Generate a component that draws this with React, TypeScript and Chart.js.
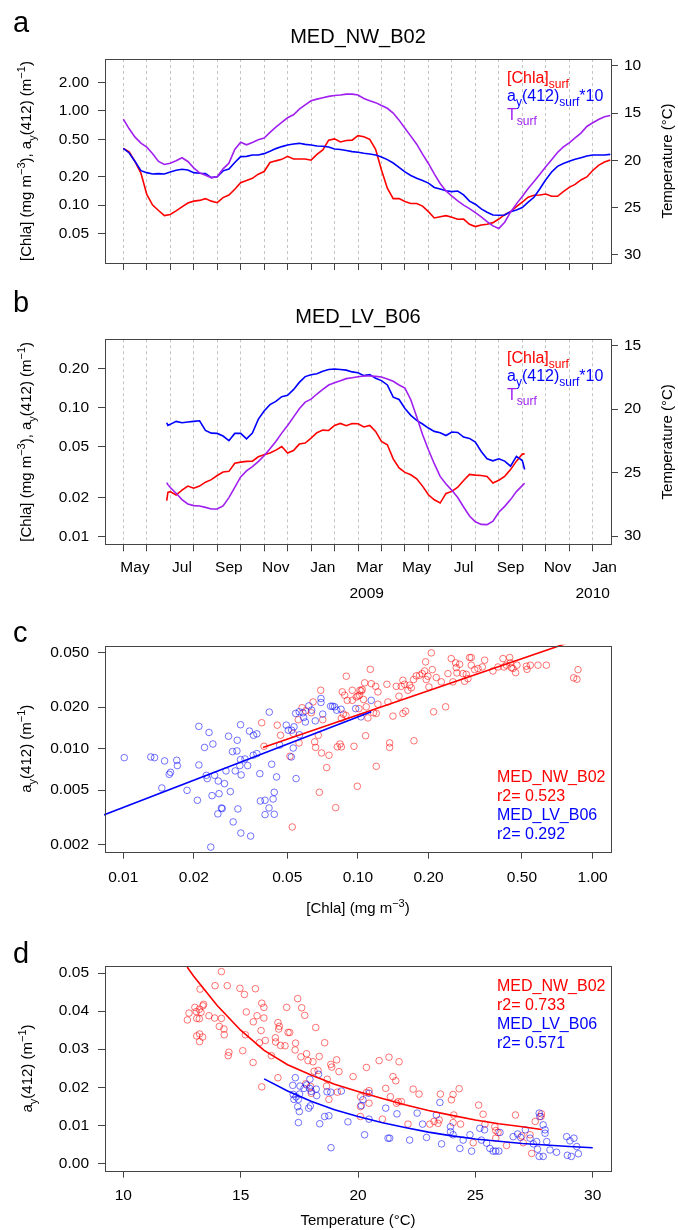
import React, { useEffect, useRef } from 'react';
import { Chart, registerables } from 'chart.js';

Chart.register(...registerables);

const FONT = '"Liberation Sans", Arial, Helvetica, sans-serif';
const RED = '#ff0000';
const BLUE = '#0000ff';
const PURPLE = '#a020f0';
const RED_PT = 'rgba(255,0,0,0.55)';
const BLUE_PT = 'rgba(0,0,255,0.55)';
const AXIS = '#444444';
const GRIDC = '#c4c4c4';

// ---------- time axis: month index, 0 = 1 May 2008 ... 20 = 1 Jan 2010
const MONTH_TICKS = [0, 1, 2, 3, 4, 5, 6, 7, 8, 9, 10, 11, 12, 13, 14, 15, 16, 17, 18, 19, 20];
const MONTH_LABELS = ['May', '', 'Jul', '', 'Sep', '', 'Nov', '', 'Jan', '', 'Mar', '', 'May', '', 'Jul', '', 'Sep', '', 'Nov', '', 'Jan'];
const YEAR_LABELS = ['2009', '2010'];
const YEAR_AT = [10.37, 20];

// ---------- panel a : MED_NW_B02
const A_MONTH = [0, 0.25, 0.5, 0.75, 1, 1.25, 1.5, 1.75, 2, 2.25, 2.5, 2.75, 3, 3.25, 3.5, 3.75, 4, 4.25, 4.5, 4.75, 5, 5.25, 5.5, 5.75, 6, 6.25, 6.5, 6.75, 7, 7.25, 7.5, 7.75, 8, 8.25, 8.5, 8.75, 9, 9.25, 9.5, 9.75, 10, 10.25, 10.5, 10.75, 11, 11.25, 11.5, 11.75, 12, 12.25, 12.5, 12.75, 13, 13.25, 13.5, 13.75, 14, 14.25, 14.5, 14.75, 15, 15.25, 15.5, 15.75, 16, 16.25, 16.5, 16.75, 17, 17.25, 17.5, 17.75, 18, 18.25, 18.5, 18.75, 19, 19.25, 19.5, 19.75, 20, 20.25, 20.5, 20.75];
const A_CHLA = [0.401, 0.367, 0.29, 0.219, 0.13, 0.1, 0.0875, 0.0773, 0.0795, 0.0866, 0.0955, 0.105, 0.11, 0.112, 0.117, 0.11, 0.106, 0.12, 0.128, 0.147, 0.173, 0.182, 0.1925, 0.213, 0.227, 0.283, 0.295, 0.306, 0.33, 0.309, 0.309, 0.309, 0.3, 0.346, 0.385, 0.49, 0.505, 0.468, 0.485, 0.49, 0.547, 0.533, 0.5, 0.391, 0.236, 0.151, 0.117, 0.117, 0.109, 0.104, 0.104, 0.0975, 0.0851, 0.0729, 0.075, 0.0772, 0.074, 0.0707, 0.071, 0.0625, 0.059, 0.0614, 0.0625, 0.065, 0.071, 0.079, 0.0851, 0.096, 0.1075, 0.121, 0.127, 0.128, 0.131, 0.124, 0.124, 0.139, 0.154, 0.166, 0.185, 0.199, 0.233, 0.264, 0.287, 0.302];
const A_AY10 = [0.401, 0.358, 0.29, 0.232, 0.221, 0.214, 0.216, 0.214, 0.225, 0.234, 0.24, 0.236, 0.221, 0.218, 0.216, 0.196, 0.2, 0.231, 0.242, 0.283, 0.327, 0.329, 0.341, 0.341, 0.352, 0.373, 0.398, 0.418, 0.435, 0.446, 0.453, 0.442, 0.435, 0.425, 0.421, 0.414, 0.395, 0.389, 0.38, 0.37, 0.364, 0.355, 0.349, 0.341, 0.324, 0.304, 0.28, 0.252, 0.225, 0.206, 0.1925, 0.182, 0.171, 0.154, 0.148, 0.142, 0.139, 0.141, 0.128, 0.11, 0.102, 0.091, 0.084, 0.0785, 0.078, 0.0785, 0.0851, 0.0886, 0.094, 0.1075, 0.121, 0.149, 0.186, 0.225, 0.258, 0.276, 0.292, 0.306, 0.319, 0.332, 0.341, 0.341, 0.341, 0.346];
const A_TEMP = [15.64, 16.67, 17.55, 18.18, 18.61, 19.31, 20.12, 20.44, 20.3, 20.05, 19.73, 20.12, 20.79, 21.32, 21.57, 21.82, 21.74, 20.9, 20.3, 18.85, 18.08, 18.36, 18.11, 17.83, 17.65, 17.05, 16.49, 16.0, 15.5, 15.18, 14.58, 14.13, 13.7, 13.53, 13.39, 13.24, 13.14, 13.1, 13.0, 13.0, 13.1, 13.46, 13.7, 13.9, 14.2, 14.5, 15.0, 15.75, 16.6, 17.44, 18.29, 19.35, 20.33, 21.43, 22.45, 23.23, 23.79, 24.28, 24.74, 25.1, 25.52, 25.98, 26.47, 26.93, 27.2, 26.54, 25.48, 24.6, 23.83, 22.98, 22.24, 21.46, 20.69, 19.95, 19.17, 18.57, 18.15, 17.62, 17.12, 16.42, 16.03, 15.68, 15.4, 15.26];
const A_LOG_TICKS = [0.05, 0.1, 0.2, 0.5, 1, 2];
const A_LOG_LABELS = ['0.05', '0.10', '0.20', '0.50', '1.00', '2.00'];
const A_TEMP_TICKS = [10, 15, 20, 25, 30];

// ---------- panel b : MED_LV_B06
const B_MONTH = [1.85, 1.9, 2, 2.25, 2.5, 2.75, 3, 3.25, 3.5, 3.75, 4, 4.25, 4.5, 4.75, 5, 5.25, 5.5, 5.75, 6, 6.25, 6.5, 6.75, 7, 7.25, 7.5, 7.75, 8, 8.25, 8.5, 8.75, 9, 9.25, 9.5, 9.75, 10, 10.25, 10.5, 10.75, 11, 11.25, 11.5, 11.75, 12, 12.25, 12.5, 12.75, 13, 13.25, 13.5, 13.75, 14, 14.25, 14.5, 14.75, 15, 15.25, 15.5, 15.75, 16, 16.25, 16.5, 16.75, 17, 17.1];
const B_CHLA = [0.019, 0.022, 0.0223, 0.021, 0.0229, 0.0246, 0.0237, 0.0246, 0.0264, 0.0276, 0.0297, 0.0316, 0.032, 0.037, 0.0377, 0.0382, 0.0384, 0.0415, 0.043, 0.0443, 0.0467, 0.0498, 0.0443, 0.0464, 0.052, 0.053, 0.0579, 0.0636, 0.0667, 0.0663, 0.0725, 0.0751, 0.0721, 0.0751, 0.0747, 0.0705, 0.0725, 0.0652, 0.0545, 0.0514, 0.04, 0.034, 0.0314, 0.0301, 0.028, 0.0246, 0.0211, 0.0193, 0.0182, 0.0216, 0.0224, 0.0241, 0.0272, 0.0303, 0.0299, 0.0297, 0.0292, 0.026, 0.0273, 0.0293, 0.033, 0.0384, 0.0435, 0.0437];
const B_AY10 = [0.076, 0.0725, 0.0739, 0.0779, 0.076, 0.077, 0.0779, 0.0788, 0.0663, 0.0632, 0.0629, 0.06, 0.0552, 0.0629, 0.0629, 0.0571, 0.0632, 0.0807, 0.0937, 0.105, 0.1113, 0.121, 0.124, 0.137, 0.156, 0.173, 0.179, 0.182, 0.19, 0.196, 0.198, 0.196, 0.194, 0.188, 0.185, 0.176, 0.179, 0.168, 0.161, 0.149, 0.12, 0.115, 0.0979, 0.0867, 0.0793, 0.0743, 0.0692, 0.0652, 0.0636, 0.0606, 0.0644, 0.064, 0.0589, 0.0575, 0.0539, 0.0456, 0.04, 0.0386, 0.04, 0.0384, 0.0351, 0.0418, 0.0388, 0.0331];
const B_TEMP = [25.79, 25.95, 26.18, 26.63, 27.13, 27.47, 27.6, 27.63, 27.74, 27.87, 27.87, 27.63, 26.97, 26.16, 25.34, 24.87, 24.53, 24.13, 23.68, 23.13, 22.55, 21.89, 21.29, 20.63, 19.97, 19.45, 19.21, 18.81, 18.45, 18.1, 17.92, 17.76, 17.6, 17.53, 17.45, 17.39, 17.39, 17.42, 17.47, 17.63, 17.81, 18.1, 18.34, 19.26, 20.6, 22.0, 23.2, 24.3, 25.3, 25.9, 26.4, 26.97, 27.71, 28.42, 28.87, 29.08, 29.1, 28.82, 28.13, 27.66, 27.13, 26.5, 26.03, 25.84];
const B_LOG_TICKS = [0.01, 0.02, 0.05, 0.1, 0.2];
const B_LOG_LABELS = ['0.01', '0.02', '0.05', '0.10', '0.20'];
const B_TEMP_TICKS = [15, 20, 25, 30];

// ---------- panel c : a_y(412) vs [Chla]
const C_NW_CHLA = [0.0389, 0.0453, 0.0468, 0.0398, 0.0525, 0.053, 0.0557, 0.0561, 0.0578, 0.0599, 0.0633, 0.0644, 0.0654, 0.066, 0.0678, 0.0694, 0.07, 0.0708, 0.0753, 0.0736, 0.0685, 0.0804, 0.0817, 0.0839, 0.085, 0.085, 0.0867, 0.0889, 0.0858, 0.0878, 0.0892, 0.0901, 0.0946, 0.0946, 0.0962, 0.0994, 0.1, 0.102, 0.101, 0.0513,
  0.1129, 0.1068, 0.1033, 0.1016, 0.0984, 0.1043, 0.1057, 0.1085, 0.114, 0.119, 0.1217, 0.1217, 0.1166, 0.1197, 0.1103, 0.1078, 0.1197, 0.1329, 0.1342, 0.1365, 0.1365, 0.141, 0.1457, 0.1496, 0.153, 0.1555, 0.158, 0.1555, 0.1596, 0.1633, 0.166, 0.1688, 0.1727, 0.1733, 0.1773, 0.1832, 0.188, 0.1924, 0.1943, 0.1955, 0.1987, 0.2007, 0.2074, 0.2054, 0.2101, 0.2157, 0.2266, 0.2365, 0.2419, 0.2499, 0.254, 0.2608, 0.2625, 0.2642, 0.2712, 0.2802, 0.2848, 0.2895, 0.2943, 0.2992, 0.3041, 0.3041, 0.3144, 0.3248, 0.3388, 0.3467, 0.3762, 0.3952, 0.4151, 0.4192, 0.429, 0.4432, 0.4461, 0.4504, 0.4578, 0.47, 0.4762, 0.522, 0.5254, 0.5429, 0.5852, 0.6352, 0.8305, 0.8667, 0.8579];
const C_NW_AY = [0.0154, 0.0148, 0.0125, 0.0104, 0.0027, 0.0129, 0.0162, 0.011, 0.0198, 0.0188, 0.0182, 0.0218, 0.0112, 0.0102, 0.0125, 0.0265, 0.0093, 0.0162, 0.00895, 0.00728, 0.00482, 0.00373, 0.0103, 0.0108, 0.0103, 0.0166, 0.0178, 0.0174, 0.0258, 0.0244, 0.0335, 0.0224, 0.0224, 0.0265, 0.0104, 0.00533, 0.0241, 0.0265, 0.0195, 0.0088,
  0.0376, 0.03, 0.0262, 0.0244, 0.0237, 0.0268, 0.0227, 0.0201, 0.0296, 0.0283, 0.0258, 0.021, 0.0182, 0.018, 0.0167, 0.0124, 0.00744, 0.0293, 0.0218, 0.011, 0.0102, 0.0172, 0.0283, 0.024, 0.0283, 0.0313, 0.0293, 0.018, 0.0187, 0.0265, 0.0288, 0.0276, 0.0317, 0.0114, 0.0337, 0.0341, 0.035, 0.0366, 0.0426, 0.0317, 0.0335, 0.028, 0.0374, 0.0495, 0.0185, 0.0328, 0.0305, 0.0201, 0.035, 0.045, 0.0305, 0.0419, 0.0387, 0.0354, 0.0409, 0.035, 0.0308, 0.0346, 0.0322, 0.0458, 0.0458, 0.0403, 0.0374, 0.0381, 0.0391, 0.0438, 0.0366, 0.0391, 0.045, 0.0391, 0.0403, 0.0458, 0.0419, 0.0387, 0.0381, 0.0356, 0.0403, 0.0396, 0.0376, 0.0403, 0.0403, 0.0403, 0.0326, 0.0374, 0.0319];
const C_LV_CHLA = [0.0101, 0.0131, 0.0136, 0.015, 0.0169, 0.017, 0.0159, 0.0157, 0.0146, 0.0187, 0.0207, 0.021, 0.0222, 0.0232, 0.0241, 0.021, 0.0226, 0.0228, 0.0245, 0.0254, 0.027, 0.0286, 0.0256, 0.0239, 0.0262, 0.0264, 0.0253, 0.0294, 0.0308, 0.0317, 0.0349, 0.0236, 0.0281, 0.0306, 0.0316, 0.0345, 0.0359, 0.0371, 0.0292, 0.0305, 0.0316, 0.033, 0.0358, 0.0371, 0.0339, 0.0314, 0.03, 0.0274, 0.0318, 0.0382, 0.0429, 0.045, 0.0402, 0.044, 0.0435, 0.0418, 0.044, 0.0402, 0.0384, 0.0419, 0.0464, 0.0495, 0.0505, 0.0522, 0.0543, 0.0562, 0.0583, 0.0587, 0.0597, 0.0618, 0.0635, 0.0658, 0.0696, 0.0696, 0.0708, 0.0765, 0.078, 0.0796, 0.0812, 0.0847, 0.0978, 0.103, 0.0534, 0.053, 0.052, 0.0545, 0.0564, 0.114];
const C_LV_AY = [0.0086, 0.0087, 0.0086, 0.00814, 0.00823, 0.00753, 0.00673, 0.00651, 0.00518, 0.00498, 0.00422, 0.0145, 0.0102, 0.0131, 0.0108, 0.00761, 0.0064, 0.00606, 0.0064, 0.00582, 0.00557, 0.00488, 0.00471, 0.00456, 0.00371, 0.00367, 0.00336, 0.00294, 0.00365, 0.00244, 0.00232, 0.00193, 0.0123, 0.0115, 0.0149, 0.0134, 0.0125, 0.0128, 0.00951, 0.00962, 0.00832, 0.00841, 0.00895, 0.0092, 0.00753, 0.00753, 0.00689, 0.00689, 0.00644, 0.00658, 0.0077, 0.00623, 0.00422, 0.00482, 0.00431, 0.00371, 0.00334, 0.00332, 0.00417, 0.0184, 0.0106, 0.0148, 0.0136, 0.0136, 0.018, 0.0185, 0.0182, 0.0168, 0.0156, 0.0204, 0.019, 0.0159, 0.0231, 0.0216, 0.0178, 0.0203, 0.0203, 0.0201, 0.019, 0.0193, 0.0195, 0.017, 0.0144, 0.0101, 0.0087, 0.00606, 0.0126, 0.0224];
// fitted log-log lines (end points)
const C_NW_FIT_X = [0.0394, 0.867];
const C_NW_FIT_Y = [0.0102, 0.062];
const C_LV_FIT_X = [0.0075, 0.114];
const C_LV_FIT_Y = [0.0031, 0.0185];
const C_X_TICKS = [0.01, 0.02, 0.05, 0.1, 0.2, 0.5, 1];
const C_X_LABELS = ['0.01', '0.02', '0.05', '0.10', '0.20', '0.50', '1.00'];
const C_Y_TICKS = [0.002, 0.005, 0.01, 0.02, 0.05];
const C_Y_LABELS = ['0.002', '0.005', '0.010', '0.020', '0.050'];

// ---------- panel d : a_y(412) vs temperature
const D_NW_T = [14.18, 13.91, 14.43, 14.97, 15.16, 15.63, 13.27, 15.9, 15.99, 16.96, 17.43, 17.6, 17.73, 13.05, 12.8, 13.11, 13.24, 13.31, 13.39, 13.42, 12.73, 13.13, 13.24, 13.65, 13.89, 14.18, 15.24, 15.7, 15.54, 15.99, 16.59, 16.65, 16.62, 17.02, 17.09, 18.2, 14.09, 14.29, 14.3, 13.13, 13.25, 13.38, 13.25, 15.2, 15.87, 15.8, 16.05, 16.48, 16.49, 16.7, 16.89, 17.34, 17.32, 17.81, 17.57, 17.87, 18.08, 18.35, 18.58, 14.5, 14.47, 15.09, 15.53, 16.31, 16.59, 15.9, 18.13, 18.3, 18.84, 18.88, 19.09, 19.19, 18.69, 18.66, 18.76, 19.12, 19.79, 17.98, 18.01, 17.77, 20.11, 20.11,
  20.36, 20.9, 21.32, 21.75, 21.49, 21.61, 20.47, 20.36, 21.18, 21.04, 21.38, 21.64, 21.71, 21.85, 22.35, 22.6, 22.13, 23.06, 23.24, 23.41, 23.51, 23.46, 23.98, 24.05, 24.31, 24.08, 24.05, 24.37, 25.14, 25.33, 25.41, 25.83, 25.87, 25.97, 25.87, 26.71, 26.98, 27.55, 27.82, 27.8, 27.33, 27.04, 24.91, 26.33, 27.4, 20.1, 20.47];
const D_NW_AY = [0.0504, 0.0467, 0.0467, 0.046, 0.0444, 0.0459, 0.0458, 0.0421, 0.041, 0.041, 0.0433, 0.0409, 0.0389, 0.041, 0.0395, 0.0399, 0.0405, 0.0397, 0.0414, 0.0418, 0.0377, 0.0381, 0.038, 0.0388, 0.0382, 0.0381, 0.0398, 0.0388, 0.0372, 0.0382, 0.037, 0.036, 0.0353, 0.0344, 0.0344, 0.0357, 0.036, 0.0353, 0.0338, 0.0335, 0.034, 0.0332, 0.032, 0.0338, 0.0349, 0.0317, 0.0323, 0.033, 0.0319, 0.031, 0.0309, 0.0316, 0.0298, 0.0288, 0.028, 0.027, 0.0267, 0.0281, 0.0317, 0.0292, 0.0283, 0.0296, 0.0265, 0.0283, 0.0225, 0.0201, 0.0242, 0.0244, 0.026, 0.0253, 0.0272, 0.0241, 0.0221, 0.0203, 0.0168, 0.0187, 0.0228, 0.0202, 0.0184, 0.0209, 0.0175, 0.0149,
  0.0252, 0.027, 0.0279, 0.0267, 0.0228, 0.0217, 0.0191, 0.0186, 0.0197, 0.0116, 0.0175, 0.0158, 0.0162, 0.0162, 0.0195, 0.0182, 0.0103, 0.0103, 0.011, 0.0105, 0.0182, 0.0114, 0.0167, 0.0181, 0.0196, 0.0127, 0.0107, 0.0103, 0.0153, 0.0129, 0.0103, 0.0096, 0.0086, 0.0081, 0.0066, 0.0127, 0.0072, 0.011, 0.013, 0.0123, 0.0075, 0.0054, 0.0054, 0.0047, 0.0026, 0.0123, 0.0158];
const D_LV_T = [17.33, 17.22, 17.53, 17.7, 17.81, 17.95, 17.94, 18.32, 18.01, 18.22, 17.24, 17.27, 17.36, 17.46, 17.51, 17.43, 17.5, 17.97, 17.9, 17.46, 18.37, 18.58, 18.76, 18.68, 18.84, 19.29, 19.57, 18.85, 18.24,
  20.47, 20.21, 20.14, 21.18, 21.66, 20.47, 22.52, 23.34, 23.49, 22.75, 22.92, 21.28, 21.35, 22.2, 20.28, 23.56, 23.94, 24.34, 24.77, 24.84, 23.94, 24.05, 24.48, 25.19, 25.39, 25.26, 25.48, 25.62, 25.76, 25.87, 26.0, 26.05, 26.61, 26.8, 26.93, 27.13, 27.33, 27.47, 27.61, 27.72, 27.75, 27.89, 27.97, 27.97, 28.04, 27.65, 27.72, 27.89, 28.18, 28.46, 28.89, 29.03, 29.2, 29.32, 29.39, 29.09, 28.92];
const D_LV_AY = [0.0225, 0.0205, 0.0203, 0.0197, 0.0206, 0.0221, 0.0197, 0.0234, 0.0189, 0.0195, 0.0181, 0.0168, 0.0175, 0.0168, 0.0182, 0.0149, 0.0136, 0.0151, 0.0145, 0.0107, 0.0104, 0.0123, 0.0125, 0.0188, 0.0187, 0.019, 0.0109, 0.0041, 0.0178,
  0.0184, 0.0167, 0.0152, 0.0145, 0.013, 0.0116, 0.0132, 0.0127, 0.016, 0.0103, 0.0068, 0.0066, 0.0066, 0.0061, 0.0075, 0.0051, 0.0096, 0.0039, 0.0075, 0.0032, 0.0083, 0.0075, 0.0061, 0.0092, 0.0088, 0.0061, 0.0053, 0.0039, 0.0032, 0.0032, 0.0032, 0.0081, 0.007, 0.0077, 0.0068, 0.0088, 0.0066, 0.0051, 0.0057, 0.0132, 0.0123, 0.0101, 0.0088, 0.0079, 0.0057, 0.0037, 0.0018, 0.0018, 0.0035, 0.0029, 0.007, 0.0059, 0.0066, 0.0044, 0.0025, 0.0018, 0.0021];
// fitted curves
const D_NW_FIT_T = [12.72, 13, 14, 15, 16, 17, 18, 19, 20, 21, 22, 23, 24, 25, 26, 27, 27.82];
const D_NW_FIT_Y = [0.0516, 0.0492, 0.0415, 0.035, 0.0297, 0.0259, 0.0232, 0.0208, 0.0189, 0.0171, 0.0154, 0.0139, 0.0126, 0.0114, 0.0104, 0.0096, 0.0089];
const D_LV_FIT_T = [16, 17, 18, 19, 20, 21, 22, 23, 24, 25, 26, 27, 28, 29, 30];
const D_LV_FIT_Y = [0.0222, 0.019, 0.0163, 0.0141, 0.0123, 0.0107, 0.0094, 0.0082, 0.0072, 0.0064, 0.0058, 0.0052, 0.0048, 0.0044, 0.0041];
const D_X_TICKS = [10, 15, 20, 25, 30];
const D_Y_TICKS = [0, 0.01, 0.02, 0.03, 0.04, 0.05];
const D_Y_LABELS = ['0.00', '0.01', '0.02', '0.03', '0.04', '0.05'];

// ---------- helpers
type Seg = { t: string; k?: 'sub' | 'sup' };
type TextItem = { segs: Seg[]; x: number; y: number; size: number; color?: string; align?: 'left' | 'center'; rotate?: boolean; xValue?: number };

function drawRich(ctx: CanvasRenderingContext2D, it: TextItem, x: number, y: number) {
  const size = it.size;
  const small = Math.round(size * 0.72);
  const fontFor = (k?: string) => `${k ? small : size}px ${FONT}`;
  ctx.save();
  ctx.translate(x, y);
  if (it.rotate) ctx.rotate(-Math.PI / 2);
  let w = 0;
  for (const s of it.segs) {
    ctx.font = fontFor(s.k);
    w += ctx.measureText(s.t).width;
  }
  let cx = it.align === 'center' ? -w / 2 : 0;
  ctx.fillStyle = it.color || '#000';
  ctx.textAlign = 'left';
  ctx.textBaseline = 'alphabetic';
  for (const s of it.segs) {
    ctx.font = fontFor(s.k);
    const dy = s.k === 'sub' ? size * 0.3 : s.k === 'sup' ? -size * 0.42 : 0;
    ctx.fillText(s.t, cx, dy);
    cx += ctx.measureText(s.t).width;
  }
  ctx.restore();
}

function textPlugin(top: number, items: TextItem[]) {
  return {
    id: 'texts',
    afterDraw(chart: any) {
      const ctx = chart.ctx;
      for (const it of items) {
        const x = it.xValue !== undefined ? chart.scales.x.getPixelForValue(it.xValue) : it.x;
        drawRich(ctx, it, x, it.y - top);
      }
    },
  };
}

const boxPlugin = {
  id: 'box',
  afterDatasetsDraw(chart: any) {
    const { ctx, chartArea: a } = chart;
    ctx.save();
    ctx.strokeStyle = AXIS;
    ctx.lineWidth = 1;
    const l = Math.round(a.left) + 0.5;
    const t = Math.round(a.top) + 0.5;
    ctx.strokeRect(l, t, Math.round(a.right) - Math.round(a.left), Math.round(a.bottom) - Math.round(a.top));
    ctx.restore();
  },
};

const tickFont = { family: FONT, size: 15.5 };
const setTicks = (values: number[]) => (scale: any) => {
  scale.ticks = values.map((v) => ({ value: v }));
};
const fixW = (w: number) => (s: any) => {
  s.width = w;
};
const fixH = (h: number) => (s: any) => {
  s.height = h;
};
const outerGrid = { drawOnChartArea: false, drawTicks: true, tickLength: 7, color: AXIS, tickColor: AXIS, lineWidth: 1 };

function lineSet(xs: number[], ys: number[], color: string, axis: string) {
  return {
    type: 'line',
    data: xs.map((x, i) => ({ x, y: ys[i] })),
    borderColor: color,
    backgroundColor: color,
    borderWidth: 1.6,
    pointRadius: 0,
    fill: false,
    tension: 0,
    yAxisID: axis,
    clip: 1,
  };
}

function pointSet(xs: number[], ys: number[], color: string) {
  return {
    type: 'scatter',
    data: xs.map((x, i) => ({ x, y: ys[i] })),
    borderColor: color,
    backgroundColor: 'rgba(0,0,0,0)',
    pointBorderColor: color,
    pointBackgroundColor: 'rgba(0,0,0,0)',
    pointRadius: 3.3,
    pointBorderWidth: 1,
    borderWidth: 1,
    showLine: false,
    yAxisID: 'y',
    clip: 4,
  };
}

function timeAxis(showLabels: boolean, height: number) {
  return {
    type: 'linear',
    min: -0.78,
    max: 20.78,
    afterBuildTicks: setTicks(MONTH_TICKS),
    afterFit: fixH(height),
    grid: { drawOnChartArea: true, drawTicks: true, tickLength: 7, color: GRIDC, tickColor: AXIS, lineWidth: 1, tickWidth: 1 },
    border: { display: false, dash: [3, 3] },
    ticks: {
      display: showLabels,
      autoSkip: false,
      maxRotation: 0,
      minRotation: 0,
      labelOffset: 11.7,
      padding: 7,
      font: tickFont,
      color: '#000',
      callback: (_v: any, i: number) => MONTH_LABELS[i],
    },
  };
}

function logLeft(min: number, max: number, ticks: number[], labels: string[]) {
  return {
    type: 'logarithmic',
    position: 'left',
    min,
    max,
    afterBuildTicks: setTicks(ticks),
    afterFit: fixW(105),
    grid: outerGrid,
    border: { display: false },
    ticks: { autoSkip: false, padding: 9, font: tickFont, color: '#000', callback: (_v: any, i: number) => labels[i] },
  };
}

function tempRight(min: number, max: number, ticks: number[]) {
  return {
    type: 'linear',
    position: 'right',
    reverse: true,
    min,
    max,
    afterBuildTicks: setTicks(ticks),
    afterFit: fixW(67),
    grid: outerGrid,
    border: { display: false },
    ticks: { autoSkip: false, padding: 6, font: tickFont, color: '#000', callback: (v: any) => String(v) },
  };
}

const baseOptions = {
  responsive: false,
  animation: false,
  events: [],
  plugins: { legend: { display: false }, tooltip: { enabled: false }, title: { display: false } },
};

// ---------- shared texts
const LEFT_TS_TITLE: Seg[] = [{ t: '[Chla] (mg m' }, { t: '\u22123', k: 'sup' }, { t: '), a' }, { t: 'y', k: 'sub' }, { t: '(412) (m' }, { t: '\u22121', k: 'sup' }, { t: ')' }];
const AY_TITLE: Seg[] = [{ t: 'a' }, { t: 'y', k: 'sub' }, { t: '(412) (m' }, { t: '\u22121', k: 'sup' }, { t: ')' }];
const CHLA_TITLE: Seg[] = [{ t: '[Chla] (mg m' }, { t: '\u22123', k: 'sup' }, { t: ')' }];
const TEMP_TITLE: Seg[] = [{ t: 'Temperature (\u00b0C)' }];
const LEG_CHLA: Seg[] = [{ t: '[Chla]' }, { t: 'surf', k: 'sub' }];
const LEG_AY: Seg[] = [{ t: 'a' }, { t: 'y', k: 'sub' }, { t: '(412)' }, { t: 'surf', k: 'sub' }, { t: '*10' }];
const LEG_T: Seg[] = [{ t: 'T' }, { t: 'surf', k: 'sub' }];

function tsTexts(letter: string, title: string, off: number, centerY: number): TextItem[] {
  return [
    { segs: [{ t: letter }], x: 13, y: 31.7 + off, size: 29 },
    { segs: [{ t: title }], x: 358, y: 43.3 + off, size: 20, align: 'center' },
    { segs: LEG_CHLA, x: 507, y: 82.7 + off, size: 16, color: RED },
    { segs: LEG_AY, x: 507, y: 101 + off, size: 16, color: BLUE },
    { segs: LEG_T, x: 507, y: 120 + off, size: 16, color: PURPLE },
    { segs: LEFT_TS_TITLE, x: 31, y: centerY, size: 15, align: 'center', rotate: true },
    { segs: TEMP_TITLE, x: 672, y: centerY, size: 15, align: 'center', rotate: true },
  ];
}

// ---------- configs
const PANELS = [
  { top: 0, height: 285 },
  { top: 285, height: 320 },
  { top: 605, height: 320 },
  { top: 925, height: 305 },
];

function configA() {
  const top = PANELS[0].top;
  return {
    type: 'line',
    data: {
      datasets: [lineSet(A_MONTH, A_TEMP, PURPLE, 'yT'), lineSet(A_MONTH, A_AY10, BLUE, 'y'), lineSet(A_MONTH, A_CHLA, RED, 'y')],
    },
    options: {
      ...baseOptions,
      layout: { padding: { top: 59 - top, bottom: 0, left: 0, right: 0 } },
      scales: {
        x: timeAxis(false, 22),
        y: logLeft(0.0242, 3.57, A_LOG_TICKS, A_LOG_LABELS),
        yT: tempRight(9.29, 30.85, A_TEMP_TICKS),
      },
    },
    plugins: [boxPlugin, textPlugin(top, tsTexts('a', 'MED_NW_B02', 0, 161))],
  };
}

function configB() {
  const top = PANELS[1].top;
  const texts = tsTexts('b', 'MED_LV_B06', 280, 441.8);
  YEAR_LABELS.forEach((lab, i) => texts.push({ segs: [{ t: lab }], x: 0, xValue: YEAR_AT[i], y: 598.3, size: 15.5, align: 'center' }));
  return {
    type: 'line',
    data: {
      datasets: [lineSet(B_MONTH, B_TEMP, PURPLE, 'yT'), lineSet(B_MONTH, B_AY10, BLUE, 'y'), lineSet(B_MONTH, B_CHLA, RED, 'y')],
    },
    options: {
      ...baseOptions,
      layout: { padding: { top: 339.3 - top, bottom: 320 - (544.3 - top) - 30, left: 0, right: 0 } },
      scales: {
        x: timeAxis(true, 30),
        y: logLeft(0.00873, 0.336, B_LOG_TICKS, B_LOG_LABELS),
        yT: tempRight(14.5, 30.65, B_TEMP_TICKS),
      },
    },
    plugins: [boxPlugin, textPlugin(top, texts)],
  };
}

function legendTexts(y0: number, r2a: string, r2b: string): TextItem[] {
  return [
    { segs: [{ t: 'MED_NW_B02' }], x: 497, y: y0, size: 16, color: RED },
    { segs: [{ t: 'r2= ' + r2a }], x: 497, y: y0 + 19, size: 16, color: RED },
    { segs: [{ t: 'MED_LV_B06' }], x: 497, y: y0 + 38.3, size: 16, color: BLUE },
    { segs: [{ t: 'r2= ' + r2b }], x: 497, y: y0 + 57.3, size: 16, color: BLUE },
  ];
}

function configC() {
  const top = PANELS[2].top;
  const texts: TextItem[] = [
    { segs: [{ t: 'c' }], x: 13, y: 641.7, size: 29 },
    ...legendTexts(781.7, '0.523', '0.292'),
    { segs: CHLA_TITLE, x: 358, y: 913, size: 15, align: 'center' },
    { segs: AY_TITLE, x: 31, y: 748.7, size: 15, align: 'center', rotate: true },
  ];
  return {
    type: 'scatter',
    data: {
      datasets: [
        lineSet(C_LV_FIT_X, C_LV_FIT_Y, BLUE, 'y'),
        lineSet(C_NW_FIT_X, C_NW_FIT_Y, RED, 'y'),
        pointSet(C_LV_CHLA, C_LV_AY, BLUE_PT),
        pointSet(C_NW_CHLA, C_NW_AY, RED_PT),
      ],
    },
    options: {
      ...baseOptions,
      layout: { padding: { top: 645.7 - top, bottom: 320 - (851.7 - top) - 40, left: 0, right: 67 } },
      scales: {
        x: {
          type: 'logarithmic',
          min: 0.00836,
          max: 1.198,
          afterBuildTicks: setTicks(C_X_TICKS),
          afterFit: fixH(40),
          grid: outerGrid,
          border: { display: false },
          ticks: { autoSkip: false, maxRotation: 0, padding: 10, font: tickFont, color: '#000', callback: (_v: any, i: number) => C_X_LABELS[i] },
        },
        y: logLeft(0.001787, 0.0558, C_Y_TICKS, C_Y_LABELS),
      },
    },
    plugins: [boxPlugin, textPlugin(top, texts)],
  };
}

function configD() {
  const top = PANELS[3].top;
  const texts: TextItem[] = [
    { segs: [{ t: 'd' }], x: 13, y: 963.3, size: 29 },
    ...legendTexts(991, '0.733', '0.571'),
    { segs: TEMP_TITLE, x: 358, y: 1225, size: 15, align: 'center' },
    { segs: AY_TITLE, x: 32, y: 1068.5, size: 15, align: 'center', rotate: true },
  ];
  return {
    type: 'scatter',
    data: {
      datasets: [
        lineSet(D_LV_FIT_T, D_LV_FIT_Y, BLUE, 'y'),
        lineSet(D_NW_FIT_T, D_NW_FIT_Y, RED, 'y'),
        pointSet(D_LV_T, D_LV_AY, BLUE_PT),
        pointSet(D_NW_T, D_NW_AY, RED_PT),
      ],
    },
    options: {
      ...baseOptions,
      layout: { padding: { top: 966.3 - top, bottom: 305 - (1170.7 - top) - 40, left: 0, right: 67 } },
      scales: {
        x: {
          type: 'linear',
          min: 9.22,
          max: 30.78,
          afterBuildTicks: setTicks(D_X_TICKS),
          afterFit: fixH(40),
          grid: outerGrid,
          border: { display: false },
          ticks: { autoSkip: false, maxRotation: 0, padding: 9, font: tickFont, color: '#000', callback: (v: any) => String(v) },
        },
        y: {
          type: 'linear',
          min: -0.00195,
          max: 0.0518,
          afterBuildTicks: setTicks(D_Y_TICKS),
          afterFit: fixW(105),
          grid: outerGrid,
          border: { display: false },
          ticks: { autoSkip: false, padding: 9, font: tickFont, color: '#000', callback: (_v: any, i: number) => D_Y_LABELS[i] },
        },
      },
    },
    plugins: [boxPlugin, textPlugin(top, texts)],
  };
}

function Panel(props: { top: number; height: number; build: () => any }) {
  const ref = useRef<HTMLCanvasElement | null>(null);
  useEffect(() => {
    const chart = new Chart(ref.current as HTMLCanvasElement, props.build());
    return () => chart.destroy();
  }, []);
  return (
    <canvas
      ref={ref}
      width={678}
      height={props.height}
      style={{ position: 'absolute', left: 0, top: props.top, width: 678, height: props.height, display: 'block' }}
    />
  );
}

export default function App() {
  return (
    <div style={{ position: 'absolute', left: 0, top: 0, width: 678, height: 1230, background: '#ffffff', overflow: 'hidden' }}>
      <Panel top={PANELS[0].top} height={PANELS[0].height} build={configA} />
      <Panel top={PANELS[1].top} height={PANELS[1].height} build={configB} />
      <Panel top={PANELS[2].top} height={PANELS[2].height} build={configC} />
      <Panel top={PANELS[3].top} height={PANELS[3].height} build={configD} />
    </div>
  );
}
